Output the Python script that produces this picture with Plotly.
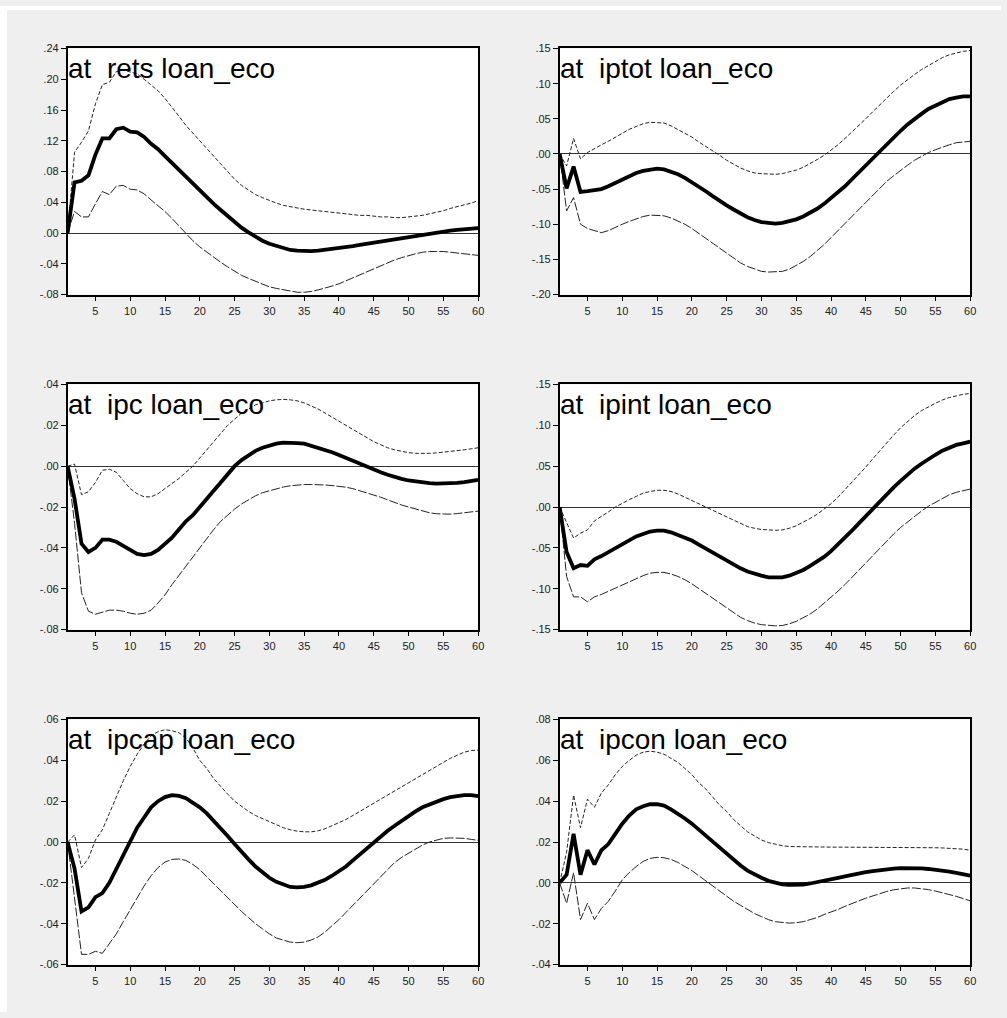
import plotly.graph_objects as go

periods = list(range(1, 61))

# ---- response of rets ----
rets_irf = [0, 0.066, 0.068, 0.075, 0.102, 0.123, 0.123, 0.135, 0.137, 0.132,
            0.131, 0.125, 0.116, 0.109, 0.100, 0.091, 0.082, 0.073, 0.064, 0.055,
            0.046, 0.038, 0.030, 0.022, 0.014, 0.007, 0.001, -0.005, -0.010, -0.014,
            -0.017, -0.020, -0.022, -0.023, -0.0235, -0.0235, -0.023, -0.022, -0.021, -0.020,
            -0.0185, -0.017, -0.0155, -0.014, -0.0125, -0.011, -0.0095, -0.008, -0.0065, -0.005,
            -0.0035, -0.002, -0.0008, 0.0005, 0.0018, 0.003, 0.004, 0.005, 0.0058, 0.0065]
rets_upper = [0, 0.105, 0.118, 0.133, 0.168, 0.193, 0.196, 0.210, 0.212, 0.210,
              0.207, 0.200, 0.192, 0.185, 0.175, 0.164, 0.152, 0.140, 0.130, 0.120,
              0.109, 0.099, 0.089, 0.079, 0.070, 0.062, 0.056, 0.050, 0.046, 0.042,
              0.039, 0.036, 0.034, 0.032, 0.031, 0.030, 0.029, 0.028, 0.027, 0.026,
              0.025, 0.024, 0.023, 0.023, 0.022, 0.021, 0.021, 0.020, 0.020, 0.021,
              0.022, 0.023, 0.025, 0.027, 0.029, 0.032, 0.034, 0.037, 0.039, 0.042]
rets_lower = [0, 0.028, 0.021, 0.021, 0.038, 0.054, 0.050, 0.061, 0.062, 0.057,
              0.056, 0.051, 0.043, 0.036, 0.028, 0.019, 0.009, -0.001, -0.010, -0.018,
              -0.025, -0.032, -0.038, -0.044, -0.050, -0.055, -0.059, -0.063, -0.067, -0.070,
              -0.072, -0.074, -0.076, -0.077, -0.077, -0.076, -0.074, -0.072, -0.069, -0.066,
              -0.062, -0.059, -0.055, -0.051, -0.047, -0.043, -0.039, -0.035, -0.032, -0.029,
              -0.027, -0.025, -0.024, -0.024, -0.024, -0.025, -0.026, -0.027, -0.028, -0.029]

# ---- response of iptot ----
iptot_irf = [0, -0.049, -0.018, -0.054, -0.053, -0.052, -0.050, -0.046, -0.041, -0.036,
             -0.031, -0.027, -0.024, -0.022, -0.021, -0.022, -0.025, -0.029, -0.034, -0.040,
             -0.046, -0.053, -0.060, -0.067, -0.073, -0.079, -0.085, -0.090, -0.094, -0.097,
             -0.098, -0.099, -0.098, -0.096, -0.093, -0.089, -0.084, -0.078, -0.071, -0.063,
             -0.055, -0.046, -0.036, -0.026, -0.016, -0.006, 0.004, 0.014, 0.024, 0.033,
             0.042, 0.050, 0.057, 0.064, 0.069, 0.074, 0.078, 0.080, 0.082, 0.082]
iptot_upper = [0, -0.017, 0.022, -0.007, 0.002, 0.008, 0.013, 0.018, 0.024, 0.030,
               0.035, 0.039, 0.043, 0.045, 0.045, 0.044, 0.040, 0.035, 0.030, 0.024,
               0.017, 0.011, 0.004, -0.002, -0.009, -0.015, -0.020, -0.024, -0.027, -0.028,
               -0.029, -0.029, -0.028, -0.026, -0.023, -0.019, -0.014, -0.008, -0.002, 0.005,
               0.013, 0.022, 0.031, 0.040, 0.050, 0.060, 0.070, 0.080, 0.089, 0.098,
               0.106, 0.113, 0.120, 0.126, 0.132, 0.137, 0.141, 0.144, 0.146, 0.147]
iptot_lower = [0, -0.081, -0.062, -0.100, -0.106, -0.109, -0.112, -0.109, -0.104, -0.100,
               -0.096, -0.092, -0.089, -0.087, -0.087, -0.088, -0.091, -0.095, -0.100, -0.106,
               -0.113, -0.120, -0.128, -0.135, -0.142, -0.149, -0.155, -0.160, -0.164, -0.167,
               -0.168, -0.168, -0.167, -0.164, -0.159, -0.153, -0.146, -0.138, -0.129, -0.119,
               -0.109, -0.099, -0.088, -0.078, -0.068, -0.058, -0.048, -0.039, -0.031, -0.023,
               -0.016, -0.009, -0.003, 0.002, 0.006, 0.010, 0.013, 0.016, 0.017, 0.018]

# ---- response of ipc ----
ipc_irf = [0, -0.016, -0.038, -0.042, -0.040, -0.036, -0.036, -0.037, -0.039, -0.041,
           -0.043, -0.0435, -0.043, -0.041, -0.038, -0.035, -0.031, -0.027, -0.024, -0.020,
           -0.016, -0.012, -0.008, -0.004, 0.000, 0.003, 0.0055, 0.0075, 0.009, 0.010,
           0.011, 0.0115, 0.0115, 0.0113, 0.011, 0.010, 0.0092, 0.008, 0.0068, 0.0055,
           0.004, 0.0025, 0.001, -0.0005, -0.002, -0.003, -0.0042, -0.0053, -0.0062, -0.007,
           -0.0075, -0.008, -0.0083, -0.0085, -0.0085, -0.0085, -0.0082, -0.0078, -0.0073, -0.0067]
ipc_upper = [0, 0.001, -0.014, -0.0125, -0.008, -0.002, -0.0015, -0.003, -0.007, -0.011,
             -0.0135, -0.015, -0.015, -0.0135, -0.011, -0.0085, -0.006, -0.003, 0.000, 0.004,
             0.008, 0.012, 0.016, 0.020, 0.023, 0.026, 0.028, 0.030, 0.031, 0.032,
             0.0325, 0.0327, 0.0325, 0.032, 0.031, 0.0295, 0.028, 0.026, 0.024, 0.022,
             0.020, 0.018, 0.016, 0.014, 0.012, 0.0105, 0.009, 0.008, 0.0072, 0.0066,
             0.0063, 0.0062, 0.0063, 0.0065, 0.0068, 0.0071, 0.0075, 0.008, 0.0085, 0.009]
ipc_lower = [0, -0.028, -0.062, -0.071, -0.0725, -0.0715, -0.0705, -0.0705, -0.071, -0.072,
             -0.0725, -0.072, -0.0705, -0.067, -0.063, -0.058, -0.0535, -0.049, -0.044, -0.0395,
             -0.035, -0.031, -0.027, -0.024, -0.021, -0.0185, -0.0165, -0.0145, -0.013, -0.012,
             -0.011, -0.0102, -0.0096, -0.0092, -0.009, -0.009, -0.009, -0.0092, -0.0095, -0.0098,
             -0.0103, -0.011, -0.012, -0.013, -0.014, -0.0152, -0.0165, -0.0178, -0.019, -0.020,
             -0.021, -0.022, -0.0228, -0.0233, -0.0235, -0.0235, -0.0232, -0.0228, -0.0224, -0.022]

# ---- response of ipint ----
ipint_irf = [0, -0.055, -0.075, -0.071, -0.072, -0.064, -0.060, -0.055, -0.050, -0.045,
             -0.040, -0.036, -0.033, -0.030, -0.029, -0.029, -0.031, -0.034, -0.037, -0.041,
             -0.046, -0.051, -0.056, -0.061, -0.066, -0.071, -0.075, -0.079, -0.082, -0.084,
             -0.086, -0.0865, -0.086, -0.084, -0.081, -0.077, -0.072, -0.067, -0.061, -0.054,
             -0.046, -0.038, -0.029, -0.020, -0.011, -0.002, 0.007, 0.016, 0.024, 0.032,
             0.040, 0.047, 0.053, 0.059, 0.064, 0.069, 0.073, 0.076, 0.078, 0.080]
ipint_upper = [0, -0.020, -0.038, -0.032, -0.028, -0.017, -0.012, -0.006, 0.000, 0.005,
               0.009, 0.013, 0.017, 0.019, 0.0205, 0.0205, 0.019, 0.016, 0.012, 0.008,
               0.004, 0.000, -0.004, -0.009, -0.013, -0.017, -0.021, -0.024, -0.026, -0.0275,
               -0.028, -0.0285, -0.028, -0.026, -0.023, -0.019, -0.014, -0.009, -0.003, 0.004,
               0.012, 0.021, 0.030, 0.039, 0.049, 0.059, 0.069, 0.079, 0.088, 0.097,
               0.105, 0.112, 0.118, 0.123, 0.127, 0.131, 0.134, 0.136, 0.138, 0.139]
ipint_lower = [0, -0.085, -0.110, -0.110, -0.116, -0.110, -0.107, -0.103, -0.099, -0.095,
               -0.091, -0.087, -0.084, -0.081, -0.080, -0.080, -0.082, -0.085, -0.089, -0.094,
               -0.100, -0.106, -0.112, -0.118, -0.124, -0.130, -0.135, -0.139, -0.142, -0.144,
               -0.145, -0.1455, -0.145, -0.143, -0.140, -0.136, -0.131, -0.125, -0.118, -0.111,
               -0.103, -0.095, -0.086, -0.077, -0.068, -0.059, -0.050, -0.041, -0.033, -0.025,
               -0.018, -0.011, -0.005, 0.001, 0.006, 0.011, 0.015, 0.018, 0.020, 0.022]

# ---- response of ipcap ----
ipcap_irf = [0, -0.013, -0.034, -0.032, -0.027, -0.025, -0.020, -0.013, -0.006, 0.001,
             0.007, 0.012, 0.017, 0.020, 0.022, 0.023, 0.0226, 0.0215, 0.0195, 0.017,
             0.014, 0.0105, 0.007, 0.003, -0.001, -0.005, -0.0085, -0.012, -0.015, -0.0175,
             -0.0195, -0.021, -0.022, -0.0222, -0.022, -0.0212, -0.020, -0.0185, -0.0165, -0.0145,
             -0.012, -0.009, -0.006, -0.003, 0.000, 0.0028, 0.0055, 0.008, 0.0105, 0.013,
             0.015, 0.017, 0.0185, 0.020, 0.021, 0.022, 0.0226, 0.023, 0.023, 0.0225]
ipcap_upper = [0, 0.0035, -0.0125, -0.008, 0.001, 0.006, 0.014, 0.022, 0.030, 0.037,
               0.043, 0.048, 0.052, 0.054, 0.055, 0.0545, 0.0535, 0.051, 0.046, 0.040,
               0.036, 0.031, 0.027, 0.0235, 0.020, 0.0175, 0.015, 0.013, 0.0115, 0.010,
               0.0085, 0.007, 0.006, 0.0053, 0.005, 0.005, 0.0055, 0.0065, 0.008, 0.0095,
               0.011, 0.013, 0.015, 0.017, 0.019, 0.021, 0.023, 0.025, 0.027, 0.029,
               0.031, 0.033, 0.035, 0.037, 0.039, 0.041, 0.0425, 0.044, 0.0448, 0.045]
ipcap_lower = [0, -0.028, -0.055, -0.055, -0.0535, -0.0545, -0.050, -0.045, -0.039, -0.033,
               -0.027, -0.0215, -0.0165, -0.0125, -0.0098, -0.0085, -0.0083, -0.009, -0.011, -0.0135,
               -0.017, -0.0205, -0.024, -0.0275, -0.031, -0.034, -0.037, -0.040, -0.0425, -0.045,
               -0.047, -0.048, -0.049, -0.0493, -0.049, -0.048, -0.0465, -0.044, -0.041, -0.038,
               -0.0345, -0.031, -0.027, -0.0235, -0.020, -0.0165, -0.013, -0.010, -0.0075, -0.0055,
               -0.0035, -0.0015, 0.000, 0.001, 0.0018, 0.002, 0.002, 0.0018, 0.0013, 0.0008]

# ---- response of ipcon ----
ipcon_irf = [0, 0.004, 0.024, 0.004, 0.016, 0.009, 0.016, 0.019, 0.024, 0.029,
             0.033, 0.036, 0.0375, 0.0385, 0.0385, 0.0378, 0.036, 0.034, 0.0315, 0.029,
             0.026, 0.023, 0.020, 0.017, 0.014, 0.011, 0.0085, 0.006, 0.004, 0.0025,
             0.001, 0.000, -0.0007, -0.001, -0.001, -0.0008, -0.0003, 0.0003, 0.001, 0.0017,
             0.0025, 0.0032, 0.004, 0.0047, 0.0053, 0.0058, 0.0063, 0.0067, 0.007, 0.0072,
             0.0073, 0.0072, 0.0071, 0.0068, 0.0065, 0.006, 0.0055, 0.0049, 0.0042, 0.0035]
ipcon_upper = [0, 0.015, 0.043, 0.027, 0.041, 0.037, 0.044, 0.048, 0.053, 0.057,
               0.060, 0.0625, 0.064, 0.0645, 0.064, 0.063, 0.061, 0.059, 0.056, 0.053,
               0.049, 0.046, 0.042, 0.038, 0.035, 0.031, 0.028, 0.025, 0.023, 0.021,
               0.0197, 0.0188, 0.0182, 0.0178, 0.0177, 0.0176, 0.0176, 0.0176, 0.0176, 0.0175,
               0.0175, 0.0175, 0.0174, 0.0174, 0.0174, 0.0174, 0.0173, 0.0173, 0.0173, 0.0173,
               0.0173, 0.0173, 0.0173, 0.0172, 0.0172, 0.0171, 0.0170, 0.0168, 0.0165, 0.016]
ipcon_lower = [0, -0.010, 0.005, -0.018, -0.010, -0.018, -0.0125, -0.009, -0.004, 0.0015,
               0.005, 0.008, 0.0105, 0.012, 0.0125, 0.0123, 0.0115, 0.010, 0.008, 0.006,
               0.0035, 0.001, -0.0015, -0.004, -0.0065, -0.009, -0.011, -0.013, -0.015, -0.0165,
               -0.018, -0.019, -0.0195, -0.0197, -0.0195, -0.019, -0.018, -0.017, -0.0155, -0.0143,
               -0.013, -0.0115, -0.010, -0.0088, -0.0075, -0.0063, -0.0052, -0.0042, -0.0034, -0.0028,
               -0.0025, -0.0025, -0.0028, -0.0033, -0.004, -0.0048, -0.0057, -0.0066, -0.0077, -0.0088]

titles = ["at\u00a0 rets loan_eco", "at\u00a0 iptot loan_eco",
          "at\u00a0 ipc loan_eco", "at\u00a0 ipint loan_eco",
          "at\u00a0 ipcap loan_eco", "at\u00a0 ipcon loan_eco"]

irfs = [rets_irf, iptot_irf, ipc_irf, ipint_irf, ipcap_irf, ipcon_irf]
uppers = [rets_upper, iptot_upper, ipc_upper, ipint_upper, ipcap_upper, ipcon_upper]
lowers = [rets_lower, iptot_lower, ipc_lower, ipint_lower, ipcap_lower, ipcon_lower]

y_ranges = [(-0.08, 0.24), (-0.20, 0.15), (-0.08, 0.04),
            (-0.15, 0.15), (-0.06, 0.06), (-0.04, 0.08)]
y_tickvals = [
    [-0.08, -0.04, 0.00, 0.04, 0.08, 0.12, 0.16, 0.20, 0.24],
    [-0.20, -0.15, -0.10, -0.05, 0.00, 0.05, 0.10, 0.15],
    [-0.08, -0.06, -0.04, -0.02, 0.00, 0.02, 0.04],
    [-0.15, -0.10, -0.05, 0.00, 0.05, 0.10, 0.15],
    [-0.06, -0.04, -0.02, 0.00, 0.02, 0.04, 0.06],
    [-0.04, -0.02, 0.00, 0.02, 0.04, 0.06, 0.08],
]
y_ticktext = [
    ["-.08", "-.04", ".00", ".04", ".08", ".12", ".16", ".20", ".24"],
    ["-.20", "-.15", "-.10", "-.05", ".00", ".05", ".10", ".15"],
    ["-.08", "-.06", "-.04", "-.02", ".00", ".02", ".04"],
    ["-.15", "-.10", "-.05", ".00", ".05", ".10", ".15"],
    ["-.06", "-.04", "-.02", ".00", ".02", ".04", ".06"],
    ["-.04", "-.02", ".00", ".02", ".04", ".06", ".08"],
]
x_tickvals = [5, 10, 15, 20, 25, 30, 35, 40, 45, 50, 55, 60]

W, H = 1007, 1018
# plot-area pixel boxes (left, right) per column and (top, bottom) per row
col_px = [(68, 481), (563, 976)]
row_px = [(43, 292), (383, 631), (722, 970)]

fig = go.Figure()
FONT = "Liberation Sans, Arial, sans-serif"

for i in range(6):
    r, c = divmod(i, 2)
    n = i + 1
    xa = "x" if n == 1 else f"x{n}"
    ya = "y" if n == 1 else f"y{n}"
    xkey = "xaxis" if n == 1 else f"xaxis{n}"
    ykey = "yaxis" if n == 1 else f"yaxis{n}"
    x0, x1 = col_px[c]
    t0, t1 = row_px[r]

    fig.add_trace(go.Scatter(x=periods, y=uppers[i], mode="lines",
                             line=dict(color="#222222", width=1, dash="4px,2px"),
                             xaxis=xa, yaxis=ya, showlegend=False, hoverinfo="skip"))
    fig.add_trace(go.Scatter(x=periods, y=lowers[i], mode="lines",
                             line=dict(color="#222222", width=1, dash="9px,2px"),
                             xaxis=xa, yaxis=ya, showlegend=False, hoverinfo="skip"))
    fig.add_trace(go.Scatter(x=periods, y=irfs[i], mode="lines",
                             line=dict(color="black", width=3.8),
                             xaxis=xa, yaxis=ya, showlegend=False))

    fig.layout[xkey] = dict(
        domain=[x0 / W, x1 / W], anchor=ya, range=[1, 60],
        tickmode="array", tickvals=x_tickvals,
        ticks="outside", ticklen=5, tickwidth=1, tickcolor="black",
        showline=True, linecolor="black", linewidth=1.5, mirror=True,
        showgrid=False, zeroline=False,
        tickfont=dict(family=FONT, size=11, color="#222222"),
    )
    fig.layout[ykey] = dict(
        domain=[1 - t1 / H, 1 - t0 / H], anchor=xa, range=list(y_ranges[i]),
        tickmode="array", tickvals=y_tickvals[i], ticktext=y_ticktext[i],
        ticks="outside", ticklen=5, tickwidth=1, tickcolor="black",
        showline=True, linecolor="black", linewidth=1.5, mirror=True,
        showgrid=False, zeroline=True, zerolinecolor="#333333", zerolinewidth=1,
        tickfont=dict(family=FONT, size=11, color="#222222"),
    )

    fig.add_annotation(text=titles[i], xref=f"{xa} domain", yref=f"{ya} domain",
                       x=0, y=1, xanchor="left", yanchor="top", showarrow=False,
                       xshift=-2, yshift=-3,
                       font=dict(family=FONT, size=28, color="black"))

# white strips outside the grey backdrop
fig.add_shape(type="rect", xref="paper", yref="paper", x0=0, x1=1, y0=1 - 4 / H, y1=1,
              fillcolor="white", line=dict(width=0), layer="below")
fig.add_shape(type="rect", xref="paper", yref="paper", x0=0, x1=7 / W, y0=0, y1=1,
              fillcolor="white", line=dict(width=0), layer="below")

fig.update_layout(
    width=W, height=H,
    margin=dict(l=0, r=0, t=0, b=0),
    paper_bgcolor="#efefef", plot_bgcolor="white",
)

fig.write_html("out.html")
